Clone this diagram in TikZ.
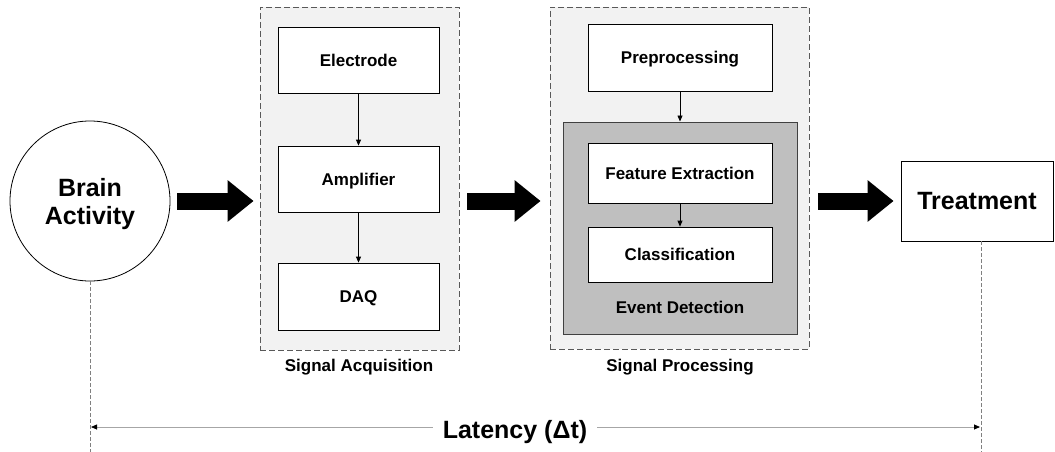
\documentclass[tikz,border=0pt]{standalone}
\usepackage{fontspec}
\setmainfont{Liberation Sans}
\usetikzlibrary{arrows.meta,calc}
\definecolor{grpfill}{HTML}{F2F2F2}
\definecolor{grpline}{HTML}{595959}
\definecolor{evfill}{HTML}{BFBFBF}
\definecolor{evline}{HTML}{404040}
\definecolor{guidecol}{HTML}{808080}
\definecolor{latcol}{HTML}{A6A6A6}
\begin{document}
\begin{tikzpicture}[x=1pt,y=-1pt,
  box/.style={draw=black, line width=0.8pt, fill=white, minimum width=161pt, inner sep=0pt,
    text depth=0pt, font=\fontsize{17}{20}\selectfont\bfseries},
  group/.style={draw=grpline, fill=grpfill, line width=0.8pt, dash pattern=on 6pt off 3pt, inner sep=0pt},
  evgroup/.style={draw=evline, fill=evfill, line width=1pt, inner sep=0pt},
  lbl/.style={font=\fontsize{17}{20}\selectfont\bfseries, inner sep=0pt, anchor=base},
  fat/.style={line width=17pt, -{Triangle[length=26pt,width=40pt]}},
  flow/.style={line width=0.8pt, -{Triangle[length=6pt,width=5pt]}},
  guide/.style={draw=guidecol, line width=0.6pt, dash pattern=on 4pt off 2pt},
  lat/.style={draw=latcol, line width=0.8pt},
  lattip/.style={-{Triangle[length=6pt,width=5pt,color=black]}}
]
\useasboundingbox (0,0) rectangle (1055,452);

% groups
\node[group, minimum width=199pt, minimum height=343pt] (acq) at (359.5,178.5) {};
\node[group, minimum width=259pt, minimum height=342pt] (proc) at (679.5,178) {};
\node[evgroup, minimum width=234pt, minimum height=212pt] (ev) at (680,228) {};

% brain activity
\node[draw=black, line width=0.8pt, circle, minimum size=160pt, inner sep=0pt, align=center,
  text depth=0pt, font=\fontsize{25}{28}\selectfont\bfseries] (brain) at (90,201) {Brain\\Activity};

% acquisition
\node[box, minimum height=66pt] (elec) at (358.5,60) {Electrode};
\node[box, minimum height=66pt] (amp) at (358.5,179) {Amplifier};
\node[box, minimum height=67pt] (daq) at (358.5,296.5) {DAQ};
\node[lbl] (acqlbl) at (359,371) {Signal Acquisition};

% processing
\node[box, minimum width=184pt, minimum height=67pt] (pre) at (680,57.5) {Preprocessing};
\node[box, minimum width=184pt, minimum height=60pt] (feat) at (680,173) {Feature Extraction};
\node[box, minimum width=184pt, minimum height=55pt] (cls) at (680,254.5) {Classification};
\node[lbl] (evlbl) at (680,313) {Event Detection};
\node[lbl] (proclbl) at (680,371) {Signal Processing};

% treatment
\node[draw=black, line width=0.8pt, fill=white, minimum width=152pt, minimum height=80pt, inner sep=0pt,
  font=\fontsize{25}{28}\selectfont\bfseries] (treat) at (977,201) {Treatment};

% thin flow arrows
\draw[flow] (elec.south) -- (amp.north);
\draw[flow] (amp.south) -- (daq.north);
\draw[flow] (pre.south) -- (ev.north);
\draw[flow] (feat.south) -- (cls.north);

% fat arrows
\draw[fat] ($(brain.east)+(7pt,0)$) -- ($(brain.east -| acq.west)+(-6pt,0)$);
\draw[fat] ($(brain.east -| acq.east)+(8pt,0)$) -- ($(brain.east -| proc.west)+(-9pt,0)$);
\draw[fat] ($(treat.west -| proc.east)+(9pt,0)$) -- ($(treat.west)+(-7pt,0)$);

% guides
\coordinate (tg) at (981,241);
\coordinate (bgEnd) at (90,452);
\coordinate (tgEnd) at (981,452);
\draw[guide] (brain.south) -- (bgEnd);
\draw[guide] (tg) -- (tgEnd);

% latency
\coordinate (latL) at (91,427);
\coordinate (latR) at (980,427);
\node[font=\fontsize{25}{28}\selectfont\bfseries, inner sep=0pt, anchor=base] (latency) at (515,438) {Latency (Δt)};
\draw[lat, lattip] (latency.west |- latL) ++(-10pt,0) -- (latL);
\draw[lat, lattip] (latency.east |- latR) ++(10pt,0) -- (latR);
\end{tikzpicture}
\end{document}
